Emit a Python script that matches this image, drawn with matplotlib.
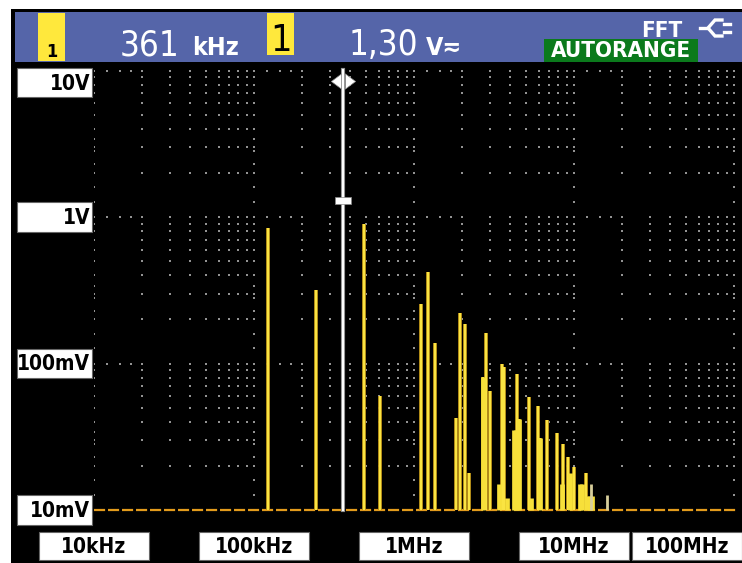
import matplotlib
matplotlib.use("Agg")
import matplotlib.pyplot as plt
import matplotlib.transforms as mtransforms
from matplotlib import font_manager
from matplotlib.patches import Rectangle
from matplotlib.lines import Line2D
import numpy as np

# spectrum lines: frequency (Hz) and level (V)
LINE_FREQ = [122e3, 244e3, 361e3, 487e3, 613e3,
             1.11e6, 1.22e6, 1.35e6, 1.83e6, 1.94e6, 2.08e6, 2.20e6,
             2.70e6, 2.81e6, 2.98e6, 3.55e6, 3.65e6, 4.41e6, 4.54e6,
             5.24e6, 5.96e6, 6.14e6, 6.78e6, 7.83e6, 8.53e6, 9.18e6,
             10.0e6, 11.9e6]
LINE_AMP = [0.84, 0.318, 1.30, 0.89, 0.060,
            0.255, 0.42, 0.138, 0.0425, 0.222, 0.186, 0.018,
            0.081, 0.162, 0.065, 0.099, 0.095, 0.085, 0.042,
            0.059, 0.051, 0.031, 0.041, 0.0335, 0.028, 0.023,
            0.0197, 0.018]
# broader leakage bins at the foot of the lines
BLOB_FREQ = [2.70e6, 3.40e6, 3.81e6, 4.22e6, 4.33e6, 4.54e6, 5.39e6,
             6.14e6, 8.42e6, 9.44e6, 10.9e6, 11.2e6, 12.0e6, 12.5e6, 12.9e6]
BLOB_AMP = [0.081, 0.015, 0.012, 0.035, 0.035, 0.042, 0.012,
            0.031, 0.015, 0.018, 0.015, 0.015, 0.0125, 0.0125, 0.0125]
# faded (previous sweep) lines
PALE_FREQ = [12.8e6, 16.1e6]
PALE_AMP = [0.015, 0.0126]

CURSOR_FREQ = 361e3
CURSOR_LEVEL = 1.30

Y_TICKS = [10, 1, 0.1, 0.01]
Y_LABELS = ["10V", "1V", "100mV", "10mV"]
X_TICKS = [1e4, 1e5, 1e6, 1e7, 1e8]
X_LABELS = ["10kHz", "100kHz", "1MHz", "10MHz", "100MHz"]

HDR_FREQ, HDR_FREQ_UNIT = "361", "kHz"
HDR_LEVEL, HDR_LEVEL_UNIT = "1,30", "V\u2242"

W, H = 742, 563
BLUE, YEL, GREEN = "#5565a9", "#ffe83c", "#0b7a1c"

# pick a narrow face if there is one, the scope font is condensed
_fl = font_manager.fontManager.ttflist
_names = {f.name for f in _fl}
if "Liberation Sans Narrow" in _names:
    FONT = dict(family="Liberation Sans Narrow")
elif any(f.name == "DejaVu Sans" and "condensed" in str(f.stretch) for f in _fl):
    FONT = dict(family="DejaVu Sans", fontstretch="condensed")
else:
    FONT = dict(family="DejaVu Sans")

def fx(x): return x / W
def fy(y): return 1 - y / H

fig = plt.figure(figsize=(W / 100, H / 100), dpi=100)
fig.patch.set_facecolor("white")

def rect(x0, y0, x1, y1, fc, ec="none", lw=0, z=0):
    fig.add_artist(Rectangle((fx(x0), fy(y1)), fx(x1) - fx(x0), fy(y0) - fy(y1),
                             transform=fig.transFigure, fc=fc, ec=ec, lw=lw, zorder=z))

def txt(x, y, s, size, color="white", **kw):
    fig.text(fx(x), fy(y), s, fontsize=size, color=color, **FONT, **kw)

# screen frame, header bar
rect(11, 9, W, H, "black")
rect(15, 12, W, 62, BLUE, z=1)

# ---- plot area (log-log, 160 px / decade in f, 146.5 px / decade in V)
AX_L, AX_R, AX_T, AX_B = 94, 736, 64, 530
DEC_X, DEC_Y = 160, 146.5
ax = fig.add_axes([fx(AX_L), fy(AX_B), fx(AX_R) - fx(AX_L), fy(AX_T) - fy(AX_B)])
ax.set_xscale("log"); ax.set_yscale("log")
ax.set_xlim(1e4, 1e4 * 10 ** ((AX_R - AX_L) / DEC_X))
ax.set_ylim(0.01 * 10 ** (-(AX_B - 510) / DEC_Y), 0.01 * 10 ** ((510 - AX_T) / DEC_Y))
ax.set_facecolor("black")
ax.set_zorder(2)
for s in ax.spines.values(): s.set_visible(False)
ax.set_xticks([]); ax.set_yticks([]); ax.minorticks_off()

# dotted graticule: dots at every minor/minor crossing, denser on decades
DOT = dict(ls="none", marker="s", ms=1.6, mew=0, color="#939393", zorder=1)
xs = [k * 10.0 ** n for n in range(4, 8) for k in range(1, 10)] + [1e8]
ys = [k * 10.0 ** n for n in range(-2, 1) for k in range(1, 10)] + [10.0]
gx, gy = np.meshgrid(xs, [v for v in ys if v > 0.0101])
ax.plot(gx.ravel(), gy.ravel(), **DOT)
dec_x = [1e4, 1e5, 1e6, 1e7]
extra_x = [d * k for d in dec_x for k in (1.2, 1.45, 1.7)]
for v in [10.0, 1.0, 0.1]:
    ax.plot(extra_x, [v] * len(extra_x), **DOT)
extra_y = [d * k for d in (0.01, 0.1, 1.0) for k in (1.27, 1.6, 2.3, 2.8, 3.4)]
for f in dec_x + [1e8]:
    ax.plot([f] * len(extra_y), extra_y, **DOT)

# baseline at the 10 mV floor
ax.axhline(0.01, color="#e39b1c", lw=1.6, dashes=(5, 1.3), zorder=3)

# spectrum
ax.vlines(LINE_FREQ, 0.01, LINE_AMP, color="#b8901a", lw=2.8, zorder=4)
ax.vlines(LINE_FREQ, 0.01, LINE_AMP, color="#fae442", lw=1.5, zorder=5)
ax.vlines(BLOB_FREQ, 0.01, BLOB_AMP, color="#f7e03a", lw=3.4, zorder=5)
ax.vlines(PALE_FREQ, 0.01, PALE_AMP, color="#d8cf9c", lw=2.0, zorder=5)

# cursor
ylo, yhi = ax.get_ylim()
frac = lambda v: (np.log10(v) - np.log10(ylo)) / (np.log10(yhi) - np.log10(ylo))
top = (AX_B - 70) / (AX_B - AX_T)
ax.axvline(CURSOR_FREQ, frac(0.01), top, color="#8c8c8c", lw=3.0, zorder=6)
ax.axvline(CURSOR_FREQ, frac(0.01), top, color="white", lw=1.6, zorder=7)
tri_l = [(-0.67, 0), (0.67, -1), (0.67, 1), (-0.67, 0)]
tri_r = [(0.67, 0), (-0.67, -1), (-0.67, 1), (0.67, 0)]
ymk = (AX_B - 81) / (AX_B - AX_T)
for verts, dx in ((tri_l, -7), (tri_r, 7)):
    tr = mtransforms.offset_copy(ax.get_xaxis_transform(), fig=fig, x=dx, y=0, units="dots")
    ax.plot([CURSOR_FREQ], [ymk], ls="none", marker=verts, ms=11, color="white",
            mec="#888888", mew=0.5, transform=tr, zorder=8, clip_on=False)
box = [(-1, -0.42), (1, -0.42), (1, 0.42), (-1, 0.42), (-1, -0.42)]
ax.plot([CURSOR_FREQ], [CURSOR_LEVEL], ls="none", marker=box, ms=12, color="white",
        mec="#888888", mew=0.5, zorder=8)

# ---- scale labels
fig.canvas.draw()
for v, lab in zip(Y_TICKS, Y_LABELS):
    ypx = H - ax.transData.transform((1e4, v))[1]
    ypx = max(ypx, 68 + 14.5)
    rect(17, ypx - 14.5, 92, ypx + 14.5, "white", ec="#666666", lw=0.8, z=3)
    txt(90, ypx + 1, lab, 15, color="black", ha="right", va="center",
        fontweight="bold", zorder=4)
for f, lab in zip(X_TICKS, X_LABELS):
    xpx = ax.transData.transform((f, 1))[0]
    x0 = min(xpx - 55, W - 110)
    rect(x0, 532, x0 + 110, 560, "white", ec="#666666", lw=0.8, z=3)
    txt(x0 + 55, 547, lab, 15, color="black", ha="center", va="center",
        fontweight="bold", zorder=4)

# ---- header readout
rect(38, 13, 65, 61, YEL, z=2)
txt(51.5, 57, "1", 13, color="black", ha="center", va="baseline", fontweight="bold", zorder=3)
txt(120, 55, HDR_FREQ, 25, ha="left", va="baseline", zorder=3)
txt(192, 55, HDR_FREQ_UNIT, 18, ha="left", va="baseline", fontweight="bold", zorder=3)
rect(267, 13, 294, 55, YEL, z=2)
txt(280.5, 51, "1", 27, color="black", ha="center", va="baseline", zorder=3)
txt(349, 55, HDR_LEVEL, 25, ha="left", va="baseline", zorder=3)
txt(426, 55, HDR_LEVEL_UNIT, 18, ha="left", va="baseline", fontweight="bold", zorder=3)
txt(641, 37, "FFT", 16, ha="left", va="baseline", fontweight="bold", zorder=3)
rect(544, 39, 698, 62, GREEN, z=2)
txt(621, 51, "AUTORANGE", 16, ha="center", va="center", fontweight="bold", zorder=3)

# plug icon next to FFT
def pline(pts):
    fig.add_artist(Line2D([fx(p[0]) for p in pts], [fy(p[1]) for p in pts],
                          transform=fig.transFigure, color="white", lw=2.4, zorder=3,
                          solid_joinstyle="miter"))
pline([(700, 28), (708, 28)])
pline([(722, 20), (715, 20), (708, 28), (715, 36), (722, 36)])
pline([(724, 24), (730, 24)])
pline([(724, 32), (730, 32)])

fig.savefig("out.png", dpi=100, facecolor="white")
